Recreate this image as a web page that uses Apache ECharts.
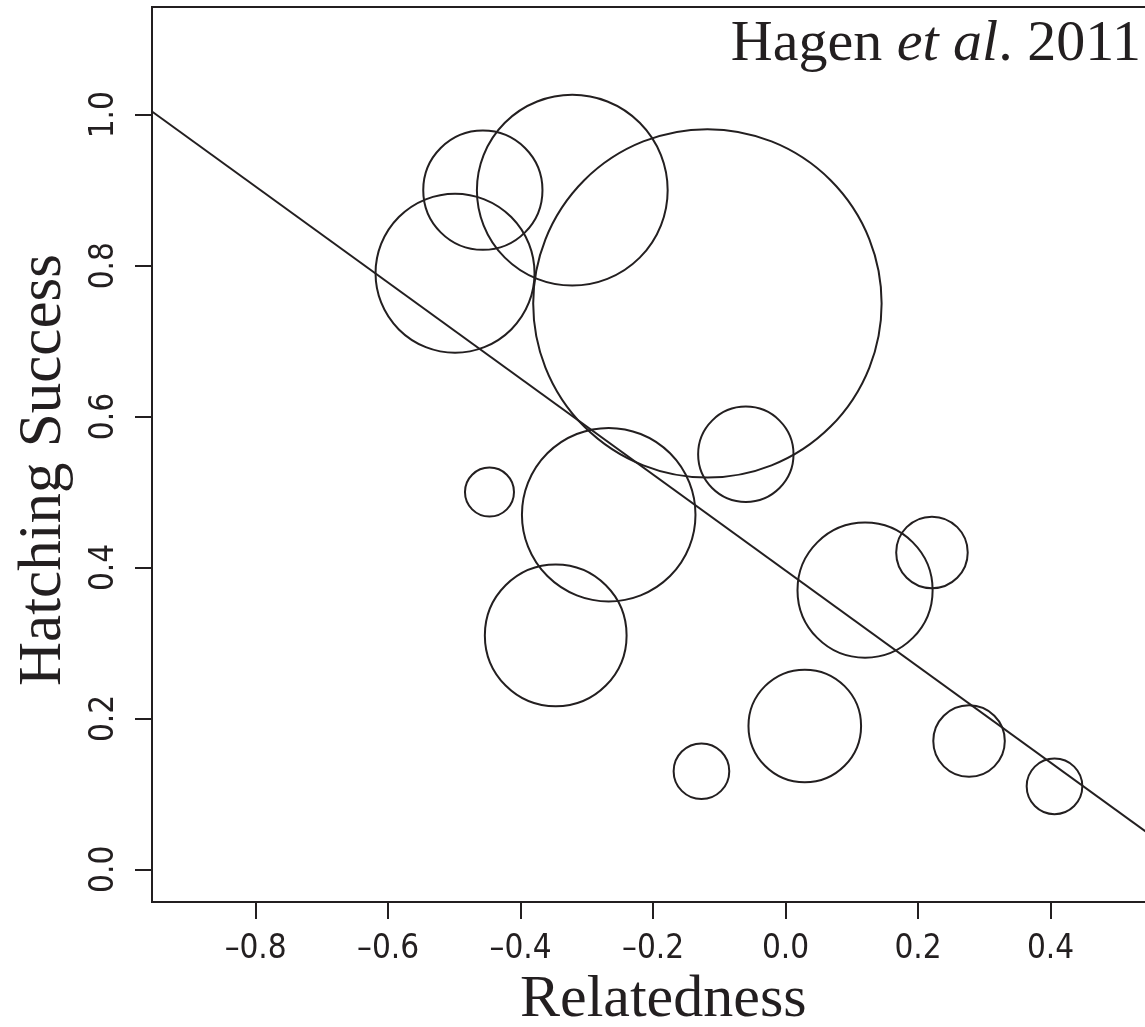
<!DOCTYPE html>
<html>
<head>
<meta charset="utf-8">
<script src="https://cdn.jsdelivr.net/npm/echarts@6/dist/echarts.min.js"></script>
<style>
html,body{margin:0;padding:0;background:#fff;}
#c{width:1145px;height:1027px;}
</style>
</head>
<body>
<div id="c"></div>
<script>
// Data
const relatedness = [-0.457, -0.322, -0.499, -0.118, -0.447, -0.267, -0.060, -0.347, 0.120, 0.221, 0.029, -0.127, 0.277, 0.406];
const hatchingSuccess = [0.90, 0.90, 0.79, 0.75, 0.50, 0.47, 0.55, 0.31, 0.37, 0.42, 0.19, 0.13, 0.17, 0.11];
// circle radius, in relatedness (x-axis) units
const circleRadius = [0.090, 0.144, 0.120, 0.263, 0.037, 0.131, 0.072, 0.107, 0.102, 0.054, 0.085, 0.042, 0.054, 0.042];
const fitIntercept = 0.396;
const fitSlope = -0.636;
const xTicks = [-0.8, -0.6, -0.4, -0.2, 0.0, 0.2, 0.4];
const yTicks = [0.0, 0.2, 0.4, 0.6, 0.8, 1.0];
const xRange = [-0.9565, 0.6];
const yRange = [-0.0433, 1.1428];

const ink = '#231f20';
const labelFont = "'Liberation Sans Narrow', 'DejaVu Sans Condensed', 'Liberation Sans', sans-serif";
const serifFont = "'Liberation Serif', 'DejaVu Serif', serif";
const fmt = v => (v < 0 ? '\u2013' : '') + Math.abs(v).toFixed(1);

const chart = echarts.init(document.getElementById('c'));
const points = relatedness.map((x, i) => [x, hatchingSuccess[i], circleRadius[i]]);
const fitLine = xRange.map(x => [x, fitIntercept + fitSlope * x]);

chart.setOption({
  animation: false,
  backgroundColor: '#fff',
  grid: {left: 152, top: 7, width: 1031, height: 895, outerBoundsMode: 'none', containLabel: false,
    show: true, borderColor: ink, borderWidth: 2, backgroundColor: 'transparent'},
  xAxis: {
    type: 'value', min: xRange[0], max: xRange[1],
    axisLine: {show: true, onZero: false, lineStyle: {color: ink, width: 2}},
    axisTick: {show: true, length: 17, customValues: xTicks, lineStyle: {color: ink, width: 2}},
    axisLabel: {customValues: xTicks, formatter: fmt, color: ink, fontFamily: labelFont, fontSize: 33, margin: 31},
    splitLine: {show: false}
  },
  yAxis: {
    type: 'value', min: yRange[0], max: yRange[1],
    axisLine: {show: true, onZero: false, lineStyle: {color: ink, width: 2}},
    axisTick: {show: true, length: 17, customValues: yTicks, lineStyle: {color: ink, width: 2}},
    axisLabel: {customValues: yTicks, formatter: fmt, color: ink, fontFamily: labelFont, fontSize: 33, margin: 31, rotate: 90},
    splitLine: {show: false}
  },
  graphic: [
    {type: 'text', left: 520, top: 970, style: {text: 'Relatedness', font: "60px " + serifFont, fill: ink}},
    {type: 'text', rotation: Math.PI / 2, x: 13, y: 470, style: {text: 'Hatching Success', font: "61px " + serifFont, fill: ink, align: 'center', verticalAlign: 'top'}},
    {type: 'text', x: 1141, y: 16, style: {
      text: '{n|Hagen }{i|et al}{n|. 2011}', align: 'right', verticalAlign: 'top', fill: ink,
      rich: {n: {font: "58px " + serifFont, fill: ink}, i: {font: "italic 58px " + serifFont, fill: ink}}
    }}
  ],
  series: [
    {type: 'scatter', data: points, symbol: 'circle', symbolSize: 10,
      itemStyle: {color: 'rgba(0,0,0,0)', borderColor: ink, borderWidth: 2, opacity: 1}, z: 3},
    {type: 'line', data: fitLine, symbol: 'none', lineStyle: {color: ink, width: 2}, z: 4}
  ]
});

const pxPerUnit = chart.convertToPixel({xAxisIndex: 0}, 1) - chart.convertToPixel({xAxisIndex: 0}, 0);
chart.setOption({series: [{symbolSize: v => 2 * v[2] * pxPerUnit}, {}]});
</script>
</body>
</html>
